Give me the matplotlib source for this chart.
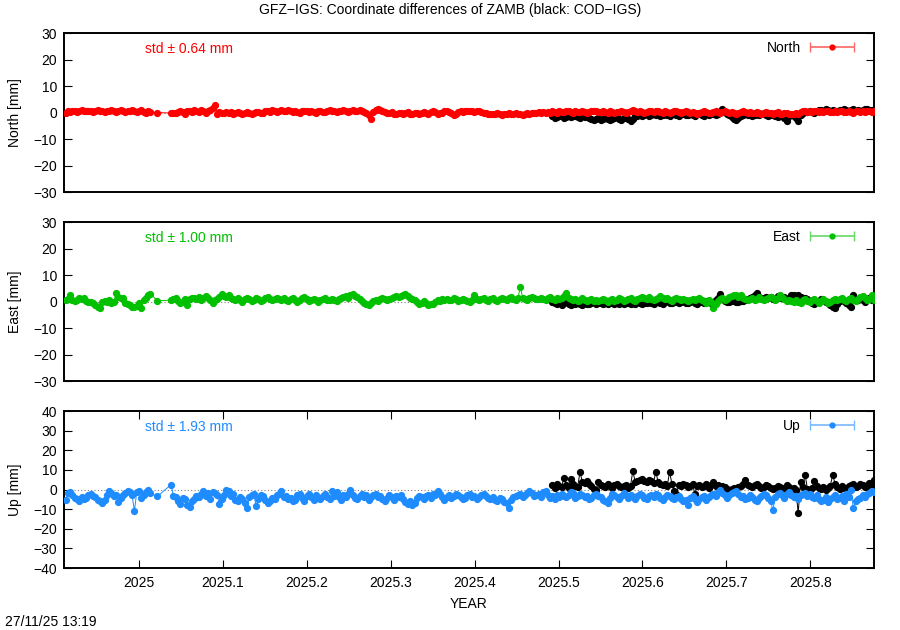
import numpy as np
import matplotlib
matplotlib.use('Agg')
from matplotlib import pyplot as plt
from matplotlib.container import ErrorbarContainer
from matplotlib.legend_handler import HandlerErrorbar

plt.rcParams['font.family'] = ['Liberation Sans', 'DejaVu Sans']
plt.rcParams['font.size'] = 10

# observation epochs (days since first epoch), GFZ-IGS and COD-IGS
start_year = 2024.9123
obs_day = list(range(0, 38)) + [40] + list(range(46, 353))
cod_day = list(range(212, 353))

north_gfz = [0.0, 0.5, 0.3, 0.6, 0.4, 0.2, 0.5, 0.8, 0.6, 0.4,
             0.5, 0.7, 0.3, 0.5, 0.9, 0.6, 0.4, 0.2, 0.5, 0.7,
             0.8, 0.5, 0.3, 0.6, 0.9, 0.4, 0.2, 0.6, 0.5, 0.8,
             0.4, 0.1, 0.5, 0.9, 0.3, 0.0, 0.4, 0.2,
             0.0,
             -0.2, 0.0, -0.3, 0.2, 0.5, 0.3, -0.5, 0.4, 0.6, 0.2,
             0.8, 0.5, 0.3, 1.0, 0.6, -0.2, 0.4, 0.8, 1.8, 3.0,
             -0.5, 0.3, 0.0, -0.3, 0.2, -0.1, 0.3, -0.4, -0.2, 0.1,
             -0.3, -0.5, -0.2, 0.2, 0.0, -0.4, -0.1, 0.3, 0.1, -0.3,
             0.0, 0.4, 0.6, 0.3, 0.8, 0.5, 0.2, 0.7, 1.0, 0.6,
             0.4, 0.8, 0.5, 0.3, 0.6, 0.2, 0.0, 0.4, 0.7, 0.5,
             0.2, 0.5, 0.3, 0.0, 0.4, 0.6, 0.3, 0.1, 0.5, 0.8,
             0.6, 0.4, 0.2, 0.5, 0.7, 0.9, 0.6, 0.3, 0.5, 0.8,
             0.4, 0.6, 0.9, 0.5, 0.2, -0.3, -1.0, -2.5, 0.3, 0.8,
             1.5, 1.0, 0.6, 0.3, 0.0, -0.2, 0.1, -0.4, -0.6, -0.3,
             0.0, -0.5, -0.2, 0.1, -0.4, -0.7, -0.3, 0.0, -0.5, -0.2,
             0.2, -0.1, -0.4, 0.3, 0.5, 0.1, -0.6, -0.3, 0.0, 0.4,
             0.6, 0.2, -0.2, -0.8, -0.4, 0.1, 0.5, 0.2, 0.6, 0.4,
             0.5, 0.6, 0.3, 0.7, 0.5, 0.2, -0.1, -0.3, -0.6, -0.4,
             -0.7, -0.5, -0.2, -0.6, -0.8, -0.4, -0.5, -0.3, -0.7, -0.5,
             -0.2, -0.6, -0.4, -0.8, -0.5, -0.3, -0.6, -0.2, 0.0, -0.3,
             0.1, -0.2, 0.2, 0.0, 0.3, -0.1, 0.4, 0.2, 0.0, 0.5,
             0.3, 0.1, 0.4, 0.6, 0.2, 0.0, 0.5, 0.3, 0.1, 0.4,
             0.2, -0.2, 0.3, 0.5, 0.7, 0.4, 0.1, 0.3, 0.6, 0.2,
             0.0, 0.4, 0.2, -0.3, 0.1, 0.3, 0.5, 0.2, -0.1, 0.3,
             0.6, 0.8, 0.4, 0.2, 0.5, 0.1, -0.2, 0.3, 0.6, 0.4,
             0.2, 0.5, 0.7, 0.3, 0.0, 0.4, 0.2, -0.3, 0.1, 0.4,
             0.6, 0.3, 0.0, 0.2, 0.5, 0.1, -0.2, 0.3, 0.0, -0.4,
             -0.1, 0.2, 0.4, 0.1, -0.3, 0.0, 0.3, 0.5, 0.2, -0.2,
             0.1, 0.4, 0.2, -0.1, 0.3, 0.0, -0.4, -0.2, 0.1, 0.4,
             0.2, -0.1, 0.3, 0.0, -0.3, 0.1, -0.2, -0.5, -0.1, 0.2,
             0.0, -0.3, -0.5, -0.2, 0.1, -0.4, -0.6, -0.3, -0.1, -0.4,
             -0.7, -0.5, -0.2, -0.6, 0.2, 0.4, 0.6, 0.3, 0.5, 0.2,
             0.4, 0.7, 0.3, 0.5, 0.2, 0.6, 0.4, 0.1, 0.3, 0.5,
             0.2, 0.4, 0.6, 0.3, 0.1, 0.5, 0.3, 0.0, 0.4, 0.6,
             0.3, 0.5, 0.2, 0.4, 0.7, 0.3, 0.5]

east_gfz = [0.6, 1.0, 2.5, 0.5, 0.3, 0.6, 1.2, 1.0, 1.3, 0.2,
            -0.3, 0.0, -0.7, -1.3, -2.0, -2.6, 0.0, 0.3, -0.2, 0.5,
            -0.5, -0.2, 3.1, 1.8, 1.2, 1.5, -0.7, -1.0, -1.3, -2.0,
            -2.2, -1.8, -0.7, -2.6, 0.6, 1.2, 2.5, 2.9,
            0.3,
            0.5, 0.8, 1.5, 0.2, -0.5, 0.0, 1.0, -1.3, 0.8, 1.2,
            1.5, 1.0, 1.8, 0.7, 1.2, 2.0, 1.5, 0.6, -0.5, 0.5,
            1.0, 1.6, 2.8, 2.2, 1.8, 2.5, 1.4, 1.0, 0.6, 1.2,
            0.4, 0.0, 0.8, 1.5, 1.0, 0.3, 0.7, 1.4, 0.9, 0.2,
            0.6, 1.2, 1.8, 1.0, 0.4, 0.8, 1.5, 1.1, 0.5, 1.3,
            0.7, 0.2, 0.9, 1.4, 0.6, 0.0, 0.5, 1.2, 1.6, 0.9,
            0.3, 0.7, 1.1, 0.5, -0.2, 0.4, 0.8, 1.3, 0.7, 0.5,
            1.0, 0.6, 0.2, 0.8, 1.2, 1.6, 2.0, 1.5, 2.3, 3.0,
            2.2, 1.6, 0.8, 0.3, -0.6, -1.0, -1.3, -0.4, 0.2, 0.6,
            0.3, 0.8, 1.2, 0.9, 0.5, 1.0, 1.4, 1.8, 2.2, 1.7,
            2.0, 2.5, 2.7, 1.9, 1.2, 0.8, 0.4, -0.3, -0.8, -0.5,
            0.2, -0.6, -1.3, -0.9, -1.1, 0.0, 0.6, 0.3, 0.9, 0.5,
            1.0, 0.4, 0.7, 1.2, 0.8, 0.3, 0.6, 1.1, 0.5, 0.2,
            0.0, 0.4, 2.5, 1.0, 0.5, 0.8, 1.3, 0.6, 0.2, 0.9,
            1.4, 0.7, 0.3, 1.0, 1.5, 0.8, 0.5, 1.2, 1.6, 1.0,
            0.6, 1.3, 5.6, 1.5, 1.0, 0.7, 1.3, 1.8, 1.2, 0.8,
            1.1, 1.5, 0.9, 0.5, 1.2, 1.7, 1.0, 0.6, 1.3, 0.9,
            1.5, 2.2, 3.1, 1.4, 0.8, 0.4, 0.9, 0.3, 0.7, 1.2,
            0.5, 0.1, 0.6, 0.9, 0.3, 0.7, 0.2, 0.5, 1.0, 0.4,
            0.0, 0.6, 0.9, 0.3, 0.5, 1.2, 0.8, 0.2, 0.6, 1.0,
            1.4, 0.7, 0.3, 0.8, 1.3, 1.8, 1.2, 0.9, 1.6, 1.1,
            0.6, 1.0, 1.5, 2.0, 1.3, 0.8, 1.2, 0.6, 0.3, 0.9,
            1.4, 0.8, 0.4, 1.0, 0.6, 0.2, 0.7, 1.1, 0.5, 0.9,
            1.3, 0.6, 0.2, -0.5, 0.4, 0.0, -2.6, -0.8, 0.3, 0.8,
            1.2, 0.6, 1.0, 1.6, 2.0, 2.4, 2.5, 1.8, 2.3, 1.4,
            0.9, 0.4, 0.8, 1.2, 0.7, 1.1, 1.6, 1.0, 0.5, 0.9,
            1.3, 1.8, 1.2, 0.7, 1.5, 2.5, 1.6, 0.8, 0.3, 0.7,
            0.2, -0.3, 0.4, 0.0, -0.5, 0.6, 1.0, 0.3, -0.2, 0.5,
            0.9, 0.1, -0.4, 0.3, 0.8, 0.2, -0.6, 0.0, 0.5, 1.0,
            0.4, 0.8, 1.3, 0.6, 0.2, 0.9, 1.4, 0.7, 0.3, 1.0,
            1.6, 2.2, 1.2, 0.5, 1.0, 2.4, 0.6]

up_gfz = [-5.5, -2.0, -1.5, -3.0, -4.5, -5.0, -6.0, -4.0, -5.0, -4.5,
          -3.0, -2.5, -3.5, -4.0, -5.5, -6.0, -7.0, -5.5, -3.0, -1.0,
          -2.0, -3.5, -3.0, -6.5, -4.5, -3.0, -2.0, -1.0, -1.5, -3.0,
          -11.0, -1.5, -1.0, -4.5, -3.0, -1.5, 0.0, -2.0,
          -3.5,
          2.5, -3.5, -4.0, -6.0, -7.5, -4.5, -5.0, -8.0, -9.0, -6.0,
          -5.0, -3.5, -4.0, -2.5, -1.0, -3.5, -2.0, -5.0, -1.5, -2.0,
          -3.0, -7.5, -5.0, -3.0, -0.5, -1.0, -3.5, -2.5, -5.5, -6.0,
          -4.0, -5.0, -7.0, -9.5, -4.0, -3.0, -2.5, -8.5, -5.0, -3.0,
          -3.5, -5.5, -7.0, -6.0, -4.5, -5.0, -3.0, -2.5, -1.0, -4.0,
          -3.5, -5.0, -4.5, -6.0, -5.5, -3.0, -2.5, -4.5, -6.0, -3.5,
          -2.5, -4.0, -5.5, -3.0, -4.5, -5.0, -3.5, -2.5, -4.0, -5.0,
          -1.0, -3.5, -1.5, -4.0, -5.5, -3.0, -4.0, -2.5, -0.5, -3.0,
          -4.5, -5.0, -3.5, -2.5, -4.0, -3.0, -5.5, -4.0, -3.0, -2.5,
          -4.0, -3.5, -5.0, -6.0, -4.5, -3.0, -4.0, -5.5, -3.5, -4.0,
          -3.0, -5.0, -6.5, -7.5, -6.0, -8.0, -7.0, -4.5, -3.5, -4.0,
          -5.0, -3.5, -3.0, -4.5, -2.5, -3.0, -1.0, -2.5, -4.0, -5.5,
          -4.0, -3.0, -4.5, -3.5, -2.5, -3.0, -4.0, -5.0, -4.5, -3.0,
          -2.5, -4.0, -3.5, -5.0, -4.0, -3.0, -2.5, -3.5, -4.5, -5.0,
          -4.0, -5.5, -6.0, -4.5, -5.0, -6.5, -7.0, -9.5, -5.5, -4.0,
          -3.5, -3.0, -2.5, -4.0, -3.0, -2.0, -1.0, -2.0, -3.5, -3.0,
          -2.5, -4.0, -1.5, -1.0, -3.0, -4.5, -3.5, -5.0, -3.0, -4.0,
          -2.5, -3.5, -4.0, -3.0, -1.5, -2.0, -4.5, -3.5, -2.5, -3.0,
          -4.0, -3.5, -5.0, -4.5, -3.0, -2.5, -3.5, -4.0, -5.5, -6.0,
          -7.0, -4.5, -2.5, -3.0, -4.0, -5.0, -3.5, -2.0, -3.0, -4.5,
          -3.0, -4.0, -5.0, -3.5, -2.5, -3.0, -4.5, -5.0, -3.5, -3.0,
          -4.0, -2.5, -3.0, -4.5, -5.5, -4.0, -3.0, -3.5, -4.5, -5.0,
          -4.0, -3.5, -5.0, -6.0, -5.5, -8.0, -4.5, -3.5, -5.0, -6.5,
          -5.0, -4.0, -3.5, -5.5, -4.0, -3.0, -2.5, -3.5, -1.5, -0.5,
          -2.0, -3.0, -4.5, -3.0, -2.0, -1.5, -1.0, -2.5, -4.0, -3.5,
          -5.0, -4.5, -3.0, -4.0, -5.5, -6.0, -4.5, -3.5, -2.5, -3.0,
          -4.5, -6.0, -10.5, -4.0, -2.5, -2.0, -3.0, -4.5, -2.5, -1.5,
          -3.0, -4.0, -3.5, -5.0, -3.0, -2.5, -2.0, -3.5, -2.5, -4.0,
          -4.5, -3.0, -5.0, -6.0, -5.5, -4.0, -6.5, -5.0, -4.0, -3.0,
          -5.0, -4.5, -3.5, -6.0, -2.5, -4.0, -0.5, -9.5, -6.0, -5.0,
          -4.5, -3.0, -4.0, -2.5, -2.0, -1.0, -1.5]

north_cod = [-1.5, -2.0, -1.8, -1.5, -1.2, -2.0, -1.6, -1.3, -1.8, -1.5,
             -1.2, -1.7, -2.0, -1.5, -1.8, -1.4, -2.2, -2.6, -3.0, -2.4,
             -2.0, -2.8, -2.5, -1.9, -2.3, -3.0, -2.6, -2.0, -1.7, -2.4,
             -2.8, -2.2, -1.8, -2.5, -3.2, -2.6, -1.5, -1.2, -0.8, -1.3,
             -1.0, -0.6, -1.2, -0.8, -0.5, -1.1, -0.7, -1.3, -0.9, -0.4,
             -0.8, -1.2, -0.6, -0.3, -1.0, -1.4, -0.7, -0.5, -1.1, -0.8,
             -0.4, -0.9, -1.3, -0.6, -0.2, -0.8, -1.2, -0.5, -0.9, -0.3,
             -0.7, -1.0, -0.4, 0.2, 1.5, 0.3, -0.5, -1.0, -1.8, -2.5,
             -2.7, -2.2, -1.5, -0.8, -0.4, -1.0, -0.6, -1.3, -0.9, -0.5,
             -1.1, -0.7, -0.3, -0.9, -1.4, -0.8, -0.5, -1.2, -1.7, -1.0,
             -1.4, -2.0, -3.1, -1.5, -0.8, -1.2, -2.0, -3.3, -1.0, -0.2,
             0.3, 0.1, 0.5, 0.2, -0.3, 0.4, 0.8, 1.0, 0.6, 1.2,
             0.9, 0.5, 1.1, 0.7, 0.4, 1.0, 0.6, 1.3, 0.8, 0.5,
             1.0, 1.4, 0.7, 1.1, 0.6, 0.9, 1.5, 1.2, 0.8, 1.0, 0.7]

east_cod = [0.0, -0.5, -1.0, -0.7, -1.3, -0.4, 0.2, -0.8, -1.2, -0.6,
            -1.0, -0.3, -0.9, -1.3, -0.5, -0.8, -1.1, -0.6, -0.2, -0.9,
            -0.7, -0.4, -1.0, -0.6, -0.8, -0.3, -0.7, -1.0, -0.5, -0.8,
            -0.6, -0.9, -0.4, -0.7, -1.1, -0.5, -0.8, -0.3, -0.6, -0.9,
            -0.4, -0.7, -0.2, -0.6, -0.9, -0.3, 0.0, -0.5, -0.8, -0.2,
            0.1, -0.4, -0.7, 0.0, -0.3, -0.6, -0.1, 0.2, -0.4, -0.7,
            -0.2, 0.1, -0.5, -0.8, -0.3, 0.0, -0.4, 0.2, -0.1, -0.6,
            0.0, 0.5, 1.2, 2.9, 1.0, 0.3, 0.0, -0.3, 0.2, 0.5,
            0.0, -0.2, 0.3, 0.1, 0.6, 0.9, 1.4, 1.8, 2.3, 3.1,
            1.6, 1.2, 1.5, 1.8, 1.3, 1.6, 1.1, 1.4, 1.9, 1.5,
            1.2, 1.6, 1.0, 1.5, 2.3, 2.6, 2.2, 2.5, 1.8, 1.2,
            1.5, 0.9, 0.3, -0.5, -0.8, -0.3, 0.2, 0.8, 0.4, 0.0,
            -0.6, -1.2, -2.0, -2.6, -1.0, 0.3, 0.8, 0.2, -0.5, -1.3,
            -2.0, 2.5, 1.0, 0.4, 1.2, 0.6, 0.0, 0.8, 1.3, 0.5, 1.0]

up_cod = [2.5, 1.0, 3.0, 2.0, 1.5, 6.0, 2.5, 1.0, 5.5, 3.0,
          2.0, 1.5, 9.0, 4.0, 3.5, 4.5, 3.0, 2.0, 0.5, -0.5,
          4.0, 2.5, 2.0, 1.5, 3.0, 2.0, 1.0, 2.5, 3.0, 2.0,
          1.5, 2.0, 2.5, 1.0, 2.0, 9.5, 4.0, 4.5, 5.0, 5.5,
          4.5, 4.0, 5.0, 4.5, 3.5, 9.0, 4.0, 3.0, 2.5, 3.0,
          2.0, 9.0, 3.0, -1.0, -2.5, 2.5, 2.0, 3.0, 2.5, 1.5,
          2.0, 3.0, -2.5, 2.0, 2.5, 1.5, 2.0, 3.0, 1.0, 2.5,
          4.0, 2.0, 2.5, -0.5, 2.0, 1.5, 0.5, 0.0, 0.5, 1.0,
          0.5, 1.5, 2.0, 3.0, 5.0, 2.5, 2.0, 1.5, 2.5, 3.0,
          2.0, 1.0, 1.5, 2.5, 2.0, 1.0, 0.5, 1.0, 2.0, 1.5,
          0.5, 1.0, 2.5, 1.5, 0.5, 1.0, 0.0, -12.0, 4.0, 1.5,
          7.5, 0.5, -0.5, 1.0, 4.5, 2.0, 1.0, 0.5, 1.5, 0.0,
          1.0, 2.0, 7.5, 3.0, 1.5, 0.5, 2.0, 1.0, -3.5, 2.0,
          2.5, 3.0, 1.5, 2.0, 3.0, 2.5, 1.5, 2.0, 3.5, 2.5, 5.0]

components = ['North', 'East', 'Up']
std_mm = [0.64, 1.00, 1.93]
colors = ['#ff0000', '#00c000', '#1e8cff']
key_colors = ['#ff6666', '#66d966', '#78b8ff']
ylims = [(-30, 30), (-30, 30), (-40, 40)]
year_ticks = [2025.0, 2025.1, 2025.2, 2025.3, 2025.4, 2025.5, 2025.6, 2025.7, 2025.8]
year_labels = ['2025', '2025.1', '2025.2', '2025.3', '2025.4', '2025.5', '2025.6', '2025.7', '2025.8']


def main():
    t_obs = start_year + np.array(obs_day) / 365.25
    t_cod = start_year + np.array(cod_day) / 365.25
    gfz = [north_gfz, east_gfz, up_gfz]
    cod = [north_cod, east_cod, up_cod]

    fig = plt.figure(figsize=(9, 6.3), dpi=100)
    boxes = [[0.0711, 0.6952, 0.9, 0.2524],
             [0.0711, 0.3952, 0.9, 0.2524],
             [0.0711, 0.0984, 0.9, 0.2492]]

    for i in range(3):
        ax = fig.add_axes(boxes[i])
        ax.axhline(0, color='#808080', lw=0.8, ls=(0, (1, 2)), zorder=1)
        ax.plot(t_cod, cod[i], '-o', color='black', lw=0.7, ms=4.2, zorder=2)
        ax.plot(t_obs, gfz[i], '-o', color=colors[i], lw=0.7, ms=4.2, zorder=3)

        # key sample: gnuplot-like errorbar symbol
        h = ax.errorbar([np.nan], [np.nan], xerr=[[1.0], [1.0]], fmt='o', color=colors[i],
                        ecolor=key_colors[i], ms=3.5, elinewidth=1.2, capsize=3.5)
        ax.legend([h], [components[i]], loc='upper right', bbox_to_anchor=(0.99, 1.02),
                  frameon=False, markerfirst=False, handlelength=3.3, handletextpad=0.6,
                  borderpad=0.3, fontsize=10,
                  handler_map={ErrorbarContainer: HandlerErrorbar(xerr_size=1.6)})

        ax.text(0.10, 0.90, 'std \u00b1 %.2f mm' % std_mm[i], transform=ax.transAxes,
                color=colors[i], va='center', ha='left')

        ax.set_xlim(2024.9105, 2025.876)
        ax.set_ylim(*ylims[i])
        lo, hi = ylims[i]
        ax.set_yticks(np.arange(lo, hi + 1, 10))
        ax.set_ylabel('%s [mm]' % components[i], labelpad=8)
        ax.tick_params(axis='y', direction='in', length=6, right=True, pad=5)
        for s in ax.spines.values():
            s.set_linewidth(1.4)

        if i == 2:
            ax.set_xticks(year_ticks)
            ax.set_xticklabels(year_labels)
            ax.tick_params(axis='x', direction='in', length=6, top=True, pad=6)
            ax.set_xlabel('YEAR', labelpad=5)
        else:
            ax.tick_params(axis='x', bottom=False, top=False, labelbottom=False)

    fig.text(0.5, 1 - 10 / 630, 'GFZ\u2212IGS: Coordinate differences of ZAMB (black: COD\u2212IGS)',
             ha='center', va='center')
    fig.text(5 / 900, 1 - 622 / 630, '27/11/25 13:19', ha='left', va='center')

    fig.savefig('out.png', dpi=100)


if __name__ == '__main__':
    main()
